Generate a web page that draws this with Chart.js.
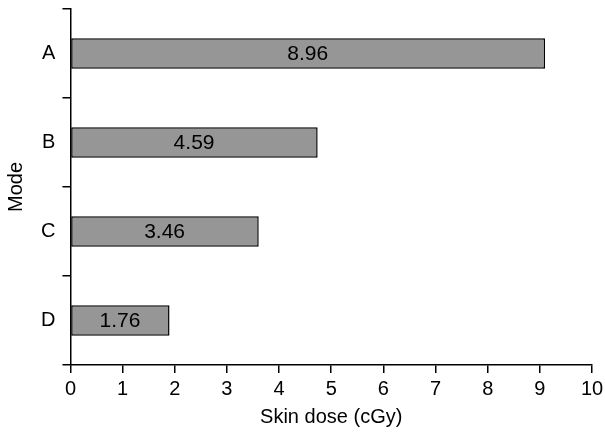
<!DOCTYPE html>
<html>
<head>
<meta charset="utf-8">
<script src="https://cdn.jsdelivr.net/npm/chart.js@4"></script>
<style>
  html, body { margin: 0; padding: 0; background: #fff; }
  #wrap { width: 605px; height: 432px; }
</style>
</head>
<body>
<div id="wrap"><canvas id="myChart" width="605" height="432"></canvas></div>
<script>
// modes and skin dose
let modes = ['A', 'B', 'C', 'D'];
// bar lengths as drawn in the figure (slightly longer than the printed values)
let barLengths = [9.1, 4.74, 3.61, 1.9];
// values printed inside the bars
let printedValues = ['8.96', '4.59', '3.46', '1.76'];
let xTicks = [0, 1, 2, 3, 4, 5, 6, 7, 8, 9, 10];

Chart.defaults.font.family = '"Liberation Sans", Arial, sans-serif';
Chart.defaults.color = '#000';

// writes the printed value in the middle of each bar
const barText = {
    id: 'barText',
    afterDatasetsDraw(chart) {
        let ctx = chart.ctx;
        let meta = chart.getDatasetMeta(0);
        ctx.save();
        ctx.font = '21px "Liberation Sans", Arial, sans-serif';
        ctx.fillStyle = '#000';
        ctx.textAlign = 'center';
        ctx.textBaseline = 'middle';
        meta.data.forEach((bar, i) => {
            let left = chart.scales.x.getPixelForValue(0);
            ctx.fillText(printedValues[i], (left + bar.x) / 2, bar.y + 1);
        });
        ctx.restore();
    }
};

var ctx = document.getElementById('myChart').getContext('2d');
var myChart = new Chart(ctx, {
    type: 'bar',
    data: {
        labels: modes,
        datasets: [{
            data: barLengths,
            backgroundColor: '#969696',
            borderColor: '#000',
            borderWidth: 1.5,
            borderSkipped: false,
            barPercentage: 0.34,
            categoryPercentage: 1
        }]
    },
    options: {
        indexAxis: 'y',
        responsive: false,
        animation: false,
        layout: { padding: { top: 9, right: 13, left: -1, bottom: 3 } },
        plugins: {
            legend: { display: false },
            tooltip: { enabled: false }
        },
        scales: {
            x: {
                min: 0,
                max: 10,
                afterBuildTicks: (axis) => { axis.ticks = xTicks.map(v => ({ value: v })); },
                afterFit: (s) => { s.paddingRight = 0; },
                border: { color: '#000', width: 1.5 },
                grid: { drawOnChartArea: false, drawTicks: true, tickLength: 8, color: '#000', lineWidth: 1.5 },
                ticks: { font: { size: 20 }, padding: 4, maxRotation: 0 },
                title: { display: true, text: 'Skin dose (cGy)', font: { size: 20 }, padding: { top: 0, bottom: 0 } }
            },
            y: {
                offset: true,
                afterFit: (s) => { s.paddingTop = 0; s.paddingBottom = 0; },
                border: { color: '#000', width: 1.5 },
                grid: { offset: true, drawOnChartArea: false, drawTicks: true, tickLength: 8, color: '#000', lineWidth: 1.5 },
                ticks: { font: { size: 20 }, padding: 7 },
                title: { display: true, text: 'Mode', font: { size: 20 }, padding: { top: 5, bottom: 6 } }
            }
        }
    },
    plugins: [barText]
});
</script>
</body>
</html>
